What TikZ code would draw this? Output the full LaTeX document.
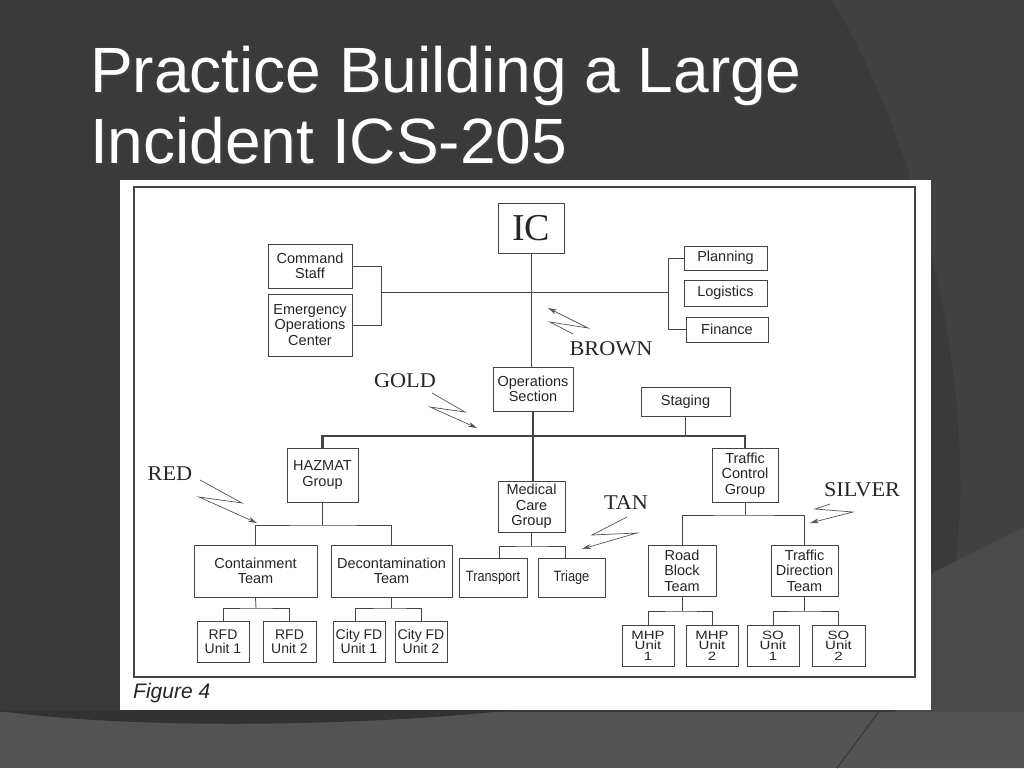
\documentclass[tikz,border=0pt]{standalone}
\usepackage{fontspec}
\setmainfont{Liberation Sans}
\newfontfamily\lblserif[FakeStretch=1.06]{Liberation Serif}
\newfontfamily\icserif{Liberation Serif}
\newfontfamily\narrowsans[FakeStretch=0.85]{Liberation Sans}
\newfontfamily\widesans[FakeStretch=1.25]{Liberation Sans}
\usetikzlibrary{arrows.meta}
\definecolor{bgdark}{HTML}{3A3A3A}
\definecolor{bgmid}{HTML}{414141}
\definecolor{bglight}{HTML}{4A4A4A}
\definecolor{bgband}{HTML}{535353}
\definecolor{bgshade}{HTML}{323232}
\definecolor{boxline}{HTML}{444444}
\definecolor{boxtext}{HTML}{262626}
\definecolor{annot}{HTML}{555555}
\newcommand\boxf{\fontsize{14.5}{15.5}\selectfont}
\newcommand\unitf{\fontsize{14}{14.5}\selectfont}
\newcommand\tinyunitf{\widesans\fontsize{12}{10.5}\selectfont}
\begin{document}
\begin{tikzpicture}[x=1pt,y=-1pt,
  box/.style={draw=boxline, line width=0.9pt, fill=white, inner sep=0pt,
    align=center, font=\boxf, text=boxtext},
  link/.style={draw=boxline, line width=0.8pt},
  bus/.style={draw=boxline, line width=2.6pt},
  lbl/.style={font=\lblserif\fontsize{21}{21}\selectfont, text=boxtext, inner sep=0pt},
  zig/.style={draw=annot, line width=0.7pt, -{Stealth[length=9pt,width=5pt]}},
  ttl/.style={anchor=base west, inner sep=0pt, font=\fontsize{64}{71}\selectfont}]
\useasboundingbox (0,0) rectangle (1024,768);
% background
\fill[bgdark] (0,0) rectangle (1024,768);
\fill[bgmid] (832,0) .. controls (905,120) and (955,300) .. (960,460)
  .. controls (961,500) .. (956,565) -- (1024,530) -- (1024,0) -- cycle;
\fill[bglight] (932,573) -- (1024,527) -- (1024,768) -- (880,768) -- cycle;
\fill[bgband] (0,712) rectangle (1024,768);
\fill[bgshade] (0,711) .. controls (150,732) and (400,724) .. (520,709) -- cycle;
\draw[bgdark, line width=1.2pt] (837,768) -- (880,710);
% title
\node[ttl, text=black!75] (t1s) at (92,94) {Practice Building a Large};
\node[ttl, text=white] (t1) at (90,92) {Practice Building a Large};
\node[ttl, text=black!75] (t2s) at (92,165) {Incident ICS-205};
\node[ttl, text=white] (t2) at (90,163) {Incident ICS-205};
% panel
\fill[white] (120,180) rectangle (931,710);
\draw[boxline, line width=1.2pt] (134,187) rectangle (915,677);
\node[anchor=base west, inner sep=0pt, text=boxtext, font=\fontsize{21}{21}\selectfont\itshape] (fig) at (133,698) {Figure 4};
% nodes
\node[box, minimum width=66, minimum height=50, font=\icserif\fontsize{38}{38}\selectfont] (ic) at (531,228) {IC};
\node[box, minimum width=84, minimum height=44] (cs) at (310,266) {Command\\Staff};
\node[box, minimum width=84, minimum height=62] (eoc) at (310,325) {Emergency\\Operations\\Center};
\node[box, minimum width=83, minimum height=24] (plan) at (725.5,258) {Planning};
\node[box, minimum width=83, minimum height=26] (log) at (725.5,293) {Logistics};
\node[box, minimum width=82, minimum height=25] (fin) at (727,329.5) {Finance};
\node[box, minimum width=80, minimum height=44] (ops) at (533,389) {Operations\\Section};
\node[box, minimum width=89, minimum height=29] (stg) at (685.5,401.5) {Staging};
\node[box, minimum width=71, minimum height=54] (haz) at (322.5,475) {HAZMAT\\Group};
\node[box, minimum width=67, minimum height=51] (med) at (531.5,506.5) {Medical\\Care\\Group};
\node[box, minimum width=66, minimum height=54] (tcg) at (745,475) {Traffic\\Control\\Group};
\node[box, minimum width=123, minimum height=52] (cont) at (255.5,571) {Containment\\Team};
\node[box, minimum width=121, minimum height=52] (decon) at (391.5,571) {Decontamination\\Team};
\node[box, minimum width=68, minimum height=39, font=\narrowsans\fontsize{15}{15}\selectfont] (trans) at (493,577.5) {Transport};
\node[box, minimum width=67, minimum height=39, font=\narrowsans\fontsize{15}{15}\selectfont] (tri) at (571.5,577.5) {Triage};
\node[box, minimum width=68, minimum height=51] (rbt) at (682,570.5) {Road\\Block\\Team};
\node[box, minimum width=67, minimum height=51] (tdt) at (804.5,570.5) {Traffic\\Direction\\Team};
\node[box, minimum width=52, minimum height=41, font=\unitf] (rfd1) at (223,641.5) {RFD\\Unit 1};
\node[box, minimum width=53, minimum height=41, font=\unitf] (rfd2) at (289.5,641.5) {RFD\\Unit 2};
\node[box, minimum width=52, minimum height=41, font=\unitf] (cfd1) at (359,641.5) {City FD\\Unit 1};
\node[box, minimum width=52, minimum height=41, font=\unitf] (cfd2) at (421,641.5) {City FD\\Unit 2};
\node[box, minimum width=52, minimum height=41, font=\tinyunitf] (mhp1) at (648,645.5) {MHP\\Unit\\1};
\node[box, minimum width=52, minimum height=41, font=\tinyunitf] (mhp2) at (712,645.5) {MHP\\Unit\\2};
\node[box, minimum width=52, minimum height=41, font=\tinyunitf] (so1) at (773,645.5) {SO\\Unit\\1};
\node[box, minimum width=53, minimum height=41, font=\tinyunitf] (so2) at (838.5,645.5) {SO\\Unit\\2};
% colour labels
\node[lbl] (gold) at (405,381) {GOLD};
\node[lbl] (brown) at (611,349) {BROWN};
\node[lbl] (red) at (170,474) {RED};
\node[lbl] (tan) at (626,503) {TAN};
\node[lbl] (silver) at (862,490) {SILVER};
% junction coordinates
\coordinate (lb) at (381,292);
\coordinate (rb) at (668,292);
\coordinate (busL) at (322.5,436);
\coordinate (busR) at (745,436);
\coordinate (hj) at (322.5,525);
\coordinate (mj) at (531.5,546);
\coordinate (tj) at (745,515);
\coordinate (cj) at (256,608);
\coordinate (dj) at (391.5,608);
\coordinate (rj) at (682,611);
\coordinate (sj) at (804.5,611);
% connectors
\draw[link] (ic.south) -- (ic.south |- ops.north);
\draw[link] (lb) -- (rb);
\draw[link] (cs.east) -- (cs.east -| lb) -- (eoc.east -| lb) -- (eoc.east);
\draw[link] (plan.west) -- (plan.west -| rb) -- (fin.west -| rb) -- (fin.west);
\draw[bus] (haz.north) -- (busL) -- (busR) -- (tcg.north);
\draw[bus] (ops.south) -- (ops.south |- med.north);
\draw[link] (stg.south) -- (stg.south |- busL);
\draw[link] (haz.south) -- (hj);
\draw[link] (cont.north) |- (hj) -| (decon.north);
\draw[link] (med.south) -- (mj);
\draw[link] ([xshift=6pt]trans.north) |- (mj) -| ([xshift=-6.5pt]tri.north);
\draw[link] (tcg.south) -- (tj);
\draw[link] (rbt.north) |- (tj) -| (tdt.north);
\draw[link] (cont.south) -- (cj);
\draw[link] (rfd1.north) |- (cj) -| (rfd2.north);
\draw[link] (decon.south) -- (dj);
\draw[link] ([xshift=-4pt]cfd1.north) |- (dj) -| (cfd2.north);
\draw[link] (rbt.south) -- (rj);
\draw[link] (mhp1.north) |- (rj) -| (mhp2.north);
\draw[link] (tdt.south) -- (sj);
\draw[link] (so1.north) |- (sj) -| (so2.north);
% annotation zigzag arrows
\coordinate (ga) at (432,393); \coordinate (gz) at (477,428);
\draw[zig] (ga) -- (465,412) -- (430,407) -- (gz);
\coordinate (ba) at (573,334); \coordinate (bz) at (548,308);
\draw[zig] (ba) -- (550,322) -- (588,328) -- (bz);
\coordinate (ra) at (200,480); \coordinate (rz) at (257,523);
\draw[zig] (ra) -- (242,503) -- (199,497) -- (rz);
\coordinate (ta) at (627,517); \coordinate (tz) at (582,549);
\draw[zig] (ta) -- (592,535) -- (637,533) -- (tz);
\coordinate (sa) at (830,504); \coordinate (sz) at (810,523);
\draw[zig] (sa) -- (815,509) -- (853,512) -- (sz);
\end{tikzpicture}
\end{document}
